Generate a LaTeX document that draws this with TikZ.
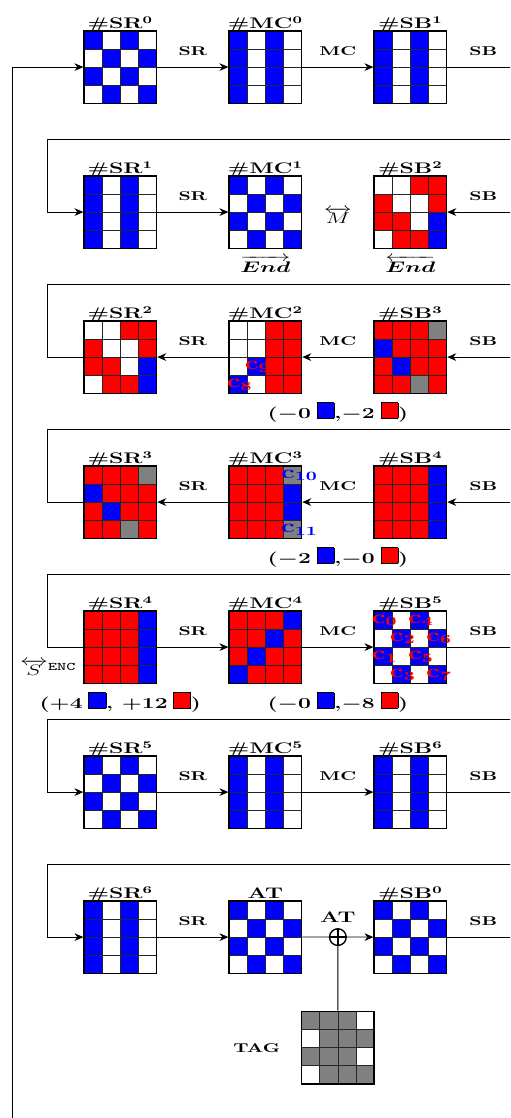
\documentclass[tikz,border=0pt]{standalone}
\usepackage{amsmath}
\usepackage{graphicx}
\usetikzlibrary{arrows.meta,positioning,calc}

\colorlet{b}{blue}
\colorlet{w}{white}
\colorlet{r}{red}
\colorlet{g}{gray}

\tikzset{
  statebox/.style={draw, line width=1.1pt, minimum size=2cm, inner sep=0pt},
  cell/.style={draw=black!85, line width=0.5pt},
  title/.style={font=\large\bfseries, anchor=base, inner sep=0pt, yshift=1pt},
  oplabel/.style={font=\bfseries, above=5pt},
  conn/.style={line width=0.6pt},
  arr/.style={conn, -{Stealth[length=7pt,width=6pt]}},
  clabel/.style={font=\Large\bfseries, anchor=west, inner sep=0pt},
  xor/.style={draw, circle, line width=1.1pt, minimum size=0.46cm, inner sep=0pt},
  tally/.style={font=\bfseries\large},
}

% the text of the figure is set wide
\newcommand{\wide}[1]{\scalebox{1.5}[1]{#1}}
% a 4x4 state: name, centre, title, cell colours row by row
\newcommand{\state}[4]{%
  \begin{scope}[shift={(#2)}]
    \foreach \clr [count=\i from 0] in {#4} {
      \pgfmathtruncatemacro\cx{mod(\i,4)}
      \pgfmathtruncatemacro\cy{floor(\i/4)}
      \filldraw[cell, fill=\clr] (-1+0.5*\cx, 1-0.5*\cy) rectangle ++(0.5,-0.5);
    }
  \end{scope}
  \node[statebox] (#1) at (#2) {};
  \node[title] (#1t) at (#1.north) {\wide{#3}};
}
% label in a cell: name, state, column, row, colour, index
\newcommand{\cname}[6]{%
  \node[clabel, text=#5] (#1) at ($(#2.north west)+(0.5*#3-0.05,-0.5*#4-0.28)$) {\wide{c$_{\mathbf{#6}}$}};
}
\newcommand{\nm}[2]{\textbf{\#{}#1}$^{\mathbf{#2}}$}
\newcommand{\op}[1]{\wide{\textbf{#1}}}
\newcommand{\sq}[1]{{\setlength{\fboxsep}{0pt}\fcolorbox{black}{#1}{\rule{0pt}{12pt}\rule{13pt}{0pt}}}}

\begin{document}
\begin{tikzpicture}
  \clip (0,0) rectangle (14.07,-30.84);

  \foreach \k in {0,...,6} {
    \pgfmathsetmacro\yy{-1.85-4*\k}
    \coordinate (l\k) at (1.32,\yy);
    \coordinate (t\k) at (1.32,\yy+2);
    \coordinate (u\k) at (14.32,\yy+2);
    \coordinate (e\k) at (14.32,\yy);
  }
  \coordinate (in0) at (0.33,-31.2);

  % round 0
  \state{sr0}{3.32,-1.85}{\nm{SR}{0}}{b,w,b,w,w,b,w,b,b,w,b,w,w,b,w,b}
  \state{mc0}{7.32,-1.85}{\nm{MC}{0}}{b,w,b,w,b,w,b,w,b,w,b,w,b,w,b,w}
  \state{sb1}{11.32,-1.85}{\nm{SB}{1}}{b,w,b,w,b,w,b,w,b,w,b,w,b,w,b,w}
  \draw[arr] (in0) |- (sr0);
  \draw[arr] (sr0) -- node[oplabel]{\op{SR}} (mc0);
  \draw[arr] (mc0) -- node[oplabel]{\op{MC}} (sb1);
  \draw[conn] (sb1) -- node[oplabel]{\op{SB}} (e0);

  % round 1
  \state{sr1}{3.32,-5.85}{\nm{SR}{1}}{b,w,b,w,b,w,b,w,b,w,b,w,b,w,b,w}
  \state{mc1}{7.32,-5.85}{\nm{MC}{1}}{b,w,b,w,w,b,w,b,b,w,b,w,w,b,w,b}
  \state{sb2}{11.32,-5.85}{\nm{SB}{2}}{w,w,r,r,r,w,w,r,r,r,w,b,w,r,r,b}
  \draw[arr] (u1) -- (t1) -- (l1) -- (sr1);
  \draw[arr] (sr1) -- node[oplabel]{\op{SR}} (mc1);
  \draw[arr] (e1) -- node[oplabel]{\op{SB}} (sb2);
  \node (m1) at ($(mc1)!0.5!(sb2)+(0,-0.1)$) {\large\wide{$\overleftrightarrow{M}$}};
  \node (endf) at ($(mc1.south)+(0,-0.42)$) {\large\wide{$\overrightarrow{\boldsymbol{End}}$}};
  \node (endb) at ($(sb2.south)+(0,-0.42)$) {\large\wide{$\overleftarrow{\boldsymbol{End}}$}};

  % round 2
  \state{sr2}{3.32,-9.85}{\nm{SR}{2}}{w,w,r,r,r,w,w,r,r,r,w,b,w,r,r,b}
  \state{mc2}{7.32,-9.85}{\nm{MC}{2}}{w,w,r,r,w,w,r,r,w,b,r,r,b,w,r,r}
  \state{sb3}{11.32,-9.85}{\nm{SB}{3}}{r,r,r,g,b,r,r,r,r,b,r,r,r,r,g,r}
  \draw[conn] (u2) -- (t2) -- (l2) -- (sr2);
  \draw[arr] (mc2) -- node[oplabel]{\op{SR}} (sr2);
  \draw[arr] (sb3) -- node[oplabel]{\op{MC}} (mc2);
  \draw[arr] (e2) -- node[oplabel]{\op{SB}} (sb3);
  \cname{c8}{mc2}{0}{3}{red}{8}
  \cname{c9}{mc2}{1}{2}{red}{9}
  \node[tally] (d2) at ($(mc2.south)!0.5!(sb3.south)+(0,-0.5)$)
    {\wide{($\boldsymbol{-0}$} \sq{blue}\wide{,$\boldsymbol{-2}$} \sq{red}\wide{)}};

  % round 3
  \state{sr3}{3.32,-13.85}{\nm{SR}{3}}{r,r,r,g,b,r,r,r,r,b,r,r,r,r,g,r}
  \state{mc3}{7.32,-13.85}{\nm{MC}{3}}{r,r,r,g,r,r,r,b,r,r,r,b,r,r,r,g}
  \state{sb4}{11.32,-13.85}{\nm{SB}{4}}{r,r,r,b,r,r,r,b,r,r,r,b,r,r,r,b}
  \draw[conn] (u3) -- (t3) -- (l3) -- (sr3);
  \draw[arr] (mc3) -- node[oplabel]{\op{SR}} (sr3);
  \draw[arr] (sb4) -- node[oplabel]{\op{MC}} (mc3);
  \draw[arr] (e3) -- node[oplabel]{\op{SB}} (sb4);
  \cname{c10}{mc3}{3}{0}{blue}{10}
  \cname{c11}{mc3}{3}{3}{blue}{11}
  \node[tally] (d3) at ($(mc3.south)!0.5!(sb4.south)+(0,-0.5)$)
    {\wide{($\boldsymbol{-2}$} \sq{blue}\wide{,$\boldsymbol{-0}$} \sq{red}\wide{)}};

  % round 4
  \state{sr4}{3.32,-17.85}{\nm{SR}{4}}{r,r,r,b,r,r,r,b,r,r,r,b,r,r,r,b}
  \state{mc4}{7.32,-17.85}{\nm{MC}{4}}{r,r,r,b,r,r,b,r,r,b,r,r,b,r,r,r}
  \state{sb5}{11.32,-17.85}{\nm{SB}{5}}{b,w,b,w,w,b,w,b,b,w,b,w,w,b,w,b}
  \draw[conn] (u4) -- (t4) -- (l4) -- (sr4);
  \draw[arr] (sr4) -- node[oplabel]{\op{SR}} (mc4);
  \draw[arr] (mc4) -- node[oplabel]{\op{MC}} (sb5);
  \draw[conn] (sb5) -- node[oplabel]{\op{SB}} (e4);
  \cname{c0}{sb5}{0}{0}{red}{0}
  \cname{c4}{sb5}{2}{0}{red}{4}
  \cname{c2}{sb5}{1}{1}{red}{2}
  \cname{c6}{sb5}{3}{1}{red}{6}
  \cname{c1}{sb5}{0}{2}{red}{1}
  \cname{c5}{sb5}{2}{2}{red}{5}
  \cname{c3}{sb5}{1}{3}{red}{3}
  \cname{c7}{sb5}{3}{3}{red}{7}
  \node (enc) at (1.33,-18.42) {\fontsize{13}{15}\selectfont\wide{$\overleftrightarrow{S}^{\texttt{ENC}}$}};
  \node[tally] (d4a) at ($(sr4.south)+(0,-0.5)$)
    {\wide{($\boldsymbol{+4}$} \sq{blue}\wide{, $\boldsymbol{+12}$} \sq{red}\wide{)}};
  \node[tally] (d4b) at ($(mc4.south)!0.5!(sb5.south)+(0,-0.5)$)
    {\wide{($\boldsymbol{-0}$} \sq{blue}\wide{,$\boldsymbol{-8}$} \sq{red}\wide{)}};

  % round 5
  \state{sr5}{3.32,-21.85}{\nm{SR}{5}}{b,w,b,w,w,b,w,b,b,w,b,w,w,b,w,b}
  \state{mc5}{7.32,-21.85}{\nm{MC}{5}}{b,w,b,w,b,w,b,w,b,w,b,w,b,w,b,w}
  \state{sb6}{11.32,-21.85}{\nm{SB}{6}}{b,w,b,w,b,w,b,w,b,w,b,w,b,w,b,w}
  \draw[arr] (u5) -- (t5) -- (l5) -- (sr5);
  \draw[arr] (sr5) -- node[oplabel]{\op{SR}} (mc5);
  \draw[arr] (mc5) -- node[oplabel]{\op{MC}} (sb6);
  \draw[conn] (sb6) -- node[oplabel]{\op{SB}} (e5);

  % round 6 and the tag
  \state{sr6}{3.32,-25.85}{\nm{SR}{6}}{b,w,b,w,b,w,b,w,b,w,b,w,b,w,b,w}
  \state{at}{7.32,-25.85}{\textbf{AT}}{b,w,b,w,w,b,w,b,b,w,b,w,w,b,w,b}
  \state{sb0}{11.32,-25.85}{\nm{SB}{0}}{b,w,b,w,w,b,w,b,b,w,b,w,w,b,w,b}
  \state{tag}{9.32,-28.9}{}{g,g,g,w,w,g,g,g,g,g,g,w,w,g,g,g}
  \node[xor] (xor) at ($(at)!0.5!(sb0)$) {};
  \draw[line width=1.1pt] (xor.north) -- (xor.south) (xor.west) -- (xor.east);
  \node[title, yshift=3pt] (xort) at (xor.north) {\wide{AT}};
  \draw[arr] (u6) -- (t6) -- (l6) -- (sr6);
  \draw[arr] (sr6) -- node[oplabel]{\op{SR}} (at);
  \draw[conn] (at) -- (xor);
  \draw[arr] (xor) -- (sb0);
  \draw[conn] (sb0) -- node[oplabel]{\op{SB}} (e6);
  \draw[conn] (xor) -- (tag);
  \node[left=0.45cm of tag] (tagl) {\op{TAG}};
\end{tikzpicture}
\end{document}
